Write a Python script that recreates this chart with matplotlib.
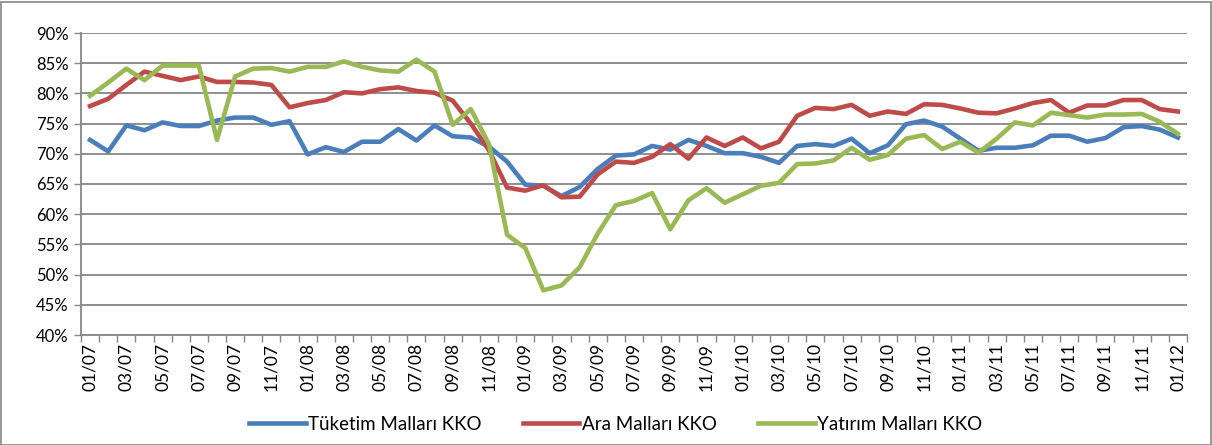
import matplotlib
matplotlib.use("Agg")
import matplotlib.pyplot as plt
from matplotlib.patches import Rectangle
import numpy as np

plt.rcParams['font.family'] = ['Lato', 'DejaVu Sans']

months = [f"{m:02d}/{y:02d}" for y in range(7, 12) for m in range(1, 13)] + ["01/12"]

tuketim = [72.3, 70.4, 74.7, 73.9, 75.2, 74.6, 74.6, 75.5, 76.0, 76.0,
           74.8, 75.4, 69.9, 71.1, 70.3, 72.0, 72.0, 74.1, 72.2, 74.7,
           72.9, 72.7, 71.2, 68.7, 64.9, 64.7, 63.0, 64.5, 67.5, 69.7,
           69.9, 71.3, 70.7, 72.3, 71.3, 70.1, 70.1, 69.5, 68.5, 71.3,
           71.6, 71.3, 72.5, 70.1, 71.4, 74.9, 75.5, 74.5, 72.5, 70.5,
           71.0, 71.0, 71.4, 73.0, 73.0, 72.0, 72.6, 74.4, 74.6, 74.0,
           72.7]
ara = [77.9, 79.1, 81.4, 83.6, 82.9, 82.2, 82.8, 81.9, 81.9, 81.8,
       81.4, 77.7, 78.4, 78.9, 80.2, 80.0, 80.7, 81.0, 80.4, 80.1,
       78.8, 75.0, 70.6, 64.4, 63.9, 64.8, 62.8, 62.9, 66.6, 68.7,
       68.5, 69.5, 71.6, 69.2, 72.7, 71.3, 72.7, 70.9, 72.0, 76.3,
       77.6, 77.4, 78.1, 76.3, 77.0, 76.6, 78.2, 78.1, 77.5, 76.8,
       76.7, 77.5, 78.4, 78.9, 76.8, 78.0, 78.0, 78.9, 78.9, 77.4,
       77.0]
yatirim = [79.6, 81.8, 84.1, 82.2, 84.6, 84.6, 84.6, 72.3, 82.8, 84.1,
           84.2, 83.6, 84.4, 84.4, 85.3, 84.4, 83.8, 83.6, 85.6, 83.6,
           74.8, 77.4, 71.6, 56.6, 54.4, 47.4, 48.2, 51.2, 56.8, 61.5,
           62.2, 63.5, 57.5, 62.3, 64.3, 61.9, 63.3, 64.7, 65.2, 68.3,
           68.4, 68.9, 71.0, 69.0, 69.8, 72.5, 73.1, 70.8, 72.0, 70.2,
           72.5, 75.2, 74.7, 76.8, 76.4, 76.0, 76.5, 76.5, 76.6, 75.3,
           73.3]

series_names = ["Tüketim Malları KKO", "Ara Malları KKO", "Yatırım Malları KKO"]
colors = ["#4A7EBB", "#BE4B48", "#98B954"]

W, H = 1212, 445
fig = plt.figure(figsize=(W / 100, H / 100), dpi=100)
ax = fig.add_axes([81 / W, 1 - 335 / H, (1187 - 81) / W, (335 - 33) / H])

x = np.arange(len(months))
for vals, name, c in zip([tuketim, ara, yatirim], series_names, colors):
    ax.plot(x, vals, color=c, lw=3.3, label=name, solid_joinstyle='round', zorder=3)

ax.set_xlim(-0.5, len(months) - 0.5)
ax.set_ylim(40, 90)
yt = np.arange(40, 91, 5)
ax.set_yticks(yt)
ax.set_yticklabels([f"{v}%" for v in yt], fontsize=12)
ax.yaxis.grid(True, color="#868686", lw=1.3, zorder=1)
ax.set_axisbelow(True)

ax.set_xticks(x[::2])
ax.set_xticklabels(months[::2], rotation=90, fontsize=12.5)
ax.set_xticks(np.arange(-0.5, len(months)), minor=True)
ax.tick_params(axis='x', which='major', length=0, pad=6)
ax.tick_params(axis='x', which='minor', length=5, color="#868686", width=1)
ax.tick_params(axis='y', length=5, color="#868686", width=1, pad=4)

for s in ["top", "right"]:
    ax.spines[s].set_visible(False)
for s in ["left", "bottom"]:
    ax.spines[s].set_color("#868686")
    ax.spines[s].set_linewidth(1.3)

fig.legend(loc="center", bbox_to_anchor=(616 / W, 1 - 424 / H), ncol=3,
           frameon=False, fontsize=13.5, handlelength=3.0, handletextpad=0.15,
           columnspacing=2.2)

fig.patches.append(Rectangle((0.5 / W, 0.5 / H), 1 - 2 / W, 1 - 2 / H,
                             transform=fig.transFigure, fill=False,
                             edgecolor="#868686", lw=1.2))

fig.savefig("out.png", dpi=100)
